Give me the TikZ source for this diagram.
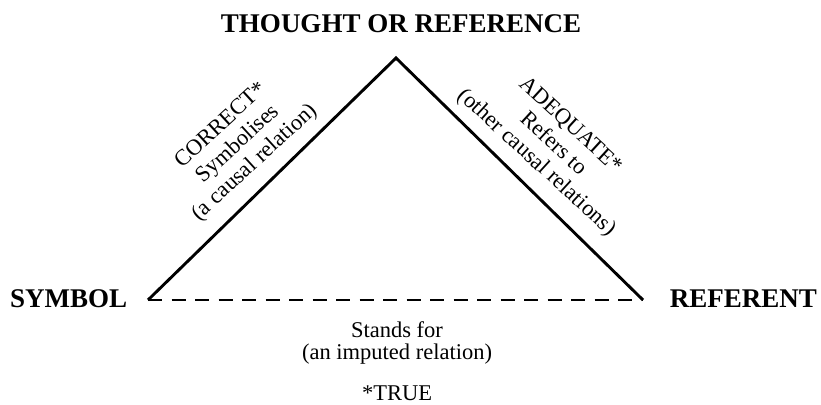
\documentclass[tikz,border=0pt]{standalone}
\usepackage{fontspec}
\setmainfont{Liberation Serif}
\begin{document}
\begin{tikzpicture}[x=1pt,y=-1pt,
  big/.style={font=\fontsize{27}{30}\selectfont\bfseries, inner sep=0pt},
  lab/.style={font=\fontsize{22.5}{25}\selectfont, align=center, inner sep=0pt},
  low/.style={font=\fontsize{22.5}{22}\selectfont, align=center, inner sep=0pt},
  edge/.style={line width=2.9pt, line join=miter, line cap=butt},
  dashedge/.style={line width=2.9pt, dash pattern=on 14pt off 9.5pt}]
\useasboundingbox (0,0) rectangle (821,404);
\coordinate (A) at (396,58);
\coordinate (L) at (148,300);
\coordinate (R) at (643,300);
\node[big, anchor=base] (title) at (401,33) {THOUGHT OR REFERENCE};
\node[big, anchor=base west] (sym) at (10,307) {SYMBOL};
\node[big, anchor=base east] (ref) at (817,307) {REFERENT};
\draw[edge] (L) -- (A) -- (R);
\draw[dashedge] (L) -- (R);
\node[lab, rotate=42.5] (leftlab) at (238.5,144.5) {CORRECT*\\Symbolises\\(a causal relation)};
\node[lab, rotate=-42.5] (rightlab) at (553,144.5) {ADEQUATE*\\Refers to\\(other causal relations)};
\node[low, anchor=base] (stands) at (397,359) {Stands for\\(an imputed relation)};
\node[low, anchor=base, text depth=0pt] (true) at (397,400) {*TRUE};
\end{tikzpicture}
\end{document}
